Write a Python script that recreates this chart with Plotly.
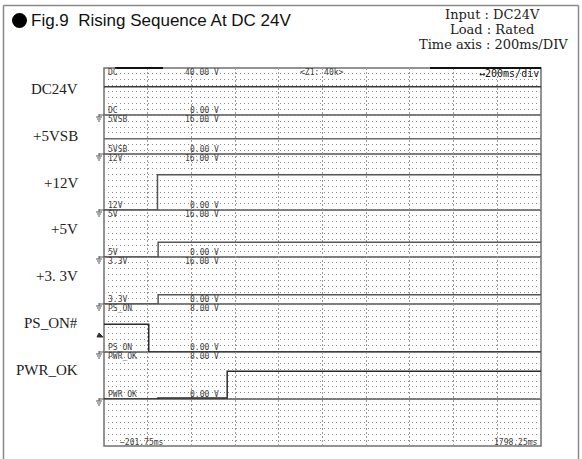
import plotly.graph_objects as go

W, H = 582, 459
T0, T1 = -201.75, 1798.25

# ---------------- data ----------------
channel_names = ["DC24V", "+5VSB", "+12V", "+5V", "+3. 3V", "PS_ON#", "PWR_OK"]
screen_tags = ["DC", "5VSB", "12V", "5V", "3.3V", "PS_ON", "PWR_OK"]
full_scale = [40, 16, 16, 16, 16, 8, 8]
full_scale_labels = ["40.00 V", "16.00 V", "16.00 V", "16.00 V", "16.00 V", "8.00 V", "8.00 V"]
zero_labels = ["0.00 V"] * 7

dc_t = [T0, T1]
dc_v = [24.0, 24.0]
vsb_t = [T0, T1]
vsb_v = [5.2, 5.2]
v12_t = [T0, 43, T1]
v12_v = [0.0, 11.9, 11.9]
v5_t = [T0, 46, T1]
v5_v = [0.0, 5.0, 5.0]
v33_t = [T0, 46, T1]
v33_v = [0.0, 3.1, 3.1]
pson_t = [T0, 3, T1]
pson_v = [4.7, 0.0, 0.0]
pwrok_t = [T0, 45, 362, T1]
pwrok_v = [0.0, 0.15, 4.7, 4.7]

series = [(dc_t, dc_v), (vsb_t, vsb_v), (v12_t, v12_v), (v5_t, v5_v),
          (v33_t, v33_v), (pson_t, pson_v), (pwrok_t, pwrok_v)]

# ---------------- layout geometry (pixels) ----------------
SX0, SX1 = 104, 541
SY0, SY1 = 68, 446
SEPS = [68, 115, 154, 210, 257, 304, 352, 399, 446]   # channel zero lines / screen edges
DIV = (SY1 - SY0) / 8                                 # one channel full scale in px


def px(x):
    return x / W


def py(y):
    return 1 - y / H


fig = go.Figure()
trace_colors = ["#3a3a3a", "#6a6a6a", "#555555", "#555555", "#555555", "#2a2a2a", "#2a2a2a"]
for i, (t, v) in enumerate(series):
    fig.add_trace(go.Scatter(x=t, y=v, mode="lines", line_shape="hv",
                             line=dict(color=trace_colors[i], width=1.5),
                             xaxis="x2", yaxis="y" if i == 0 else f"y{i+1}",
                             showlegend=False, hoverinfo="skip"))
# grid carrier (whole screen)
fig.add_trace(go.Scatter(x=[None], y=[None], xaxis="x", yaxis="y8",
                         showlegend=False, hoverinfo="skip"))

layout = dict(
    width=W, height=H, margin=dict(l=0, r=0, t=0, b=0),
    paper_bgcolor="white", plot_bgcolor="rgba(0,0,0,0)", showlegend=False,
    xaxis=dict(domain=[px(SX0), px(SX1)], range=[T0, T1], tick0=T0, dtick=200,
               showgrid=True, gridcolor="#9a9a9a", griddash="2px,2px", gridwidth=1,
               showticklabels=False, ticks="", zeroline=False, showline=False,
               anchor="y8"),
    xaxis2=dict(domain=[px(SX0), px(SX1)], range=[T0, T1], showgrid=False,
                showticklabels=False, ticks="", zeroline=False, showline=False,
                anchor="y", matches="x"),
    yaxis8=dict(domain=[py(SY1), py(SY0)], range=[0, 64], dtick=1, showgrid=True,
                gridcolor="#8c8c8c", griddash="1px,3px", gridwidth=1,
                showticklabels=False, ticks="", zeroline=False, showline=False,
                anchor="x"),
)
for i in range(7):
    zero = SEPS[i + 1]
    key = "yaxis" if i == 0 else f"yaxis{i+1}"
    layout[key] = dict(domain=[py(zero), py(zero - DIV)], range=[0, full_scale[i]],
                       showgrid=False, showticklabels=False, ticks="",
                       zeroline=False, showline=False, anchor="x2")
fig.update_layout(**layout)

shapes = []
# screen border
shapes.append(dict(type="rect", xref="paper", yref="paper", x0=px(SX0), x1=px(SX1),
                   y0=py(SY1), y1=py(SY0), line=dict(color="#707070", width=1.5),
                   layer="below"))
# zone separators (channel ground lines)
for y in SEPS[1:-1]:
    shapes.append(dict(type="line", xref="paper", yref="paper", x0=px(SX0), x1=px(SX1),
                       y0=py(y), y1=py(y), line=dict(color="#505050", width=1.5),
                       layer="below"))
# dark top segments
for a, b in [(115, 163), (430, 541)]:
    shapes.append(dict(type="line", xref="paper", yref="paper", x0=px(a), x1=px(b),
                       y0=py(SY0), y1=py(SY0), line=dict(color="#111111", width=2)))
# ground symbols
for y in SEPS[1:-1]:
    shapes.append(dict(type="line", xref="paper", yref="paper", x0=px(99), x1=px(SX0),
                       y0=py(y), y1=py(y), line=dict(color="#555555", width=1)))
    shapes.append(dict(type="line", xref="paper", yref="paper", x0=px(99), x1=px(99),
                       y0=py(y - 1), y1=py(y + 2), line=dict(color="#555555", width=1)))
    for k, hw in enumerate([3, 2, 1]):
        yy = y + 2 + k * 2
        shapes.append(dict(type="line", xref="paper", yref="paper", x0=px(99 - hw),
                           x1=px(99 + hw), y0=py(yy), y1=py(yy),
                           line=dict(color="#555555", width=1)))
# trigger marker
shapes.append(dict(type="path", xref="paper", yref="paper",
                   path=f"M {px(97)} {py(337)} L {px(103)} {py(337)} L {px(99)} {py(333)} Z",
                   fillcolor="#333333", line=dict(color="#333333", width=1)))
# outer frame
for (x0, y0, x1, y1) in [(3.5, 5.5, 3.5, 459), (3.5, 5.5, 578.5, 5.5), (578.5, 5.5, 578.5, 459)]:
    shapes.append(dict(type="line", xref="paper", yref="paper", x0=px(x0), x1=px(x1),
                       y0=py(y0), y1=py(y1), line=dict(color="#8a8a8a", width=1.5)))
# title bullet
shapes.append(dict(type="circle", xref="paper", yref="paper", x0=px(12), x1=px(27),
                   y0=py(28), y1=py(13), fillcolor="black", line=dict(color="black", width=0)))
fig.update_layout(shapes=shapes)

ann = []
mono = dict(family="DejaVu Sans Mono", size=8, color="#404040")


def txt(x, y, s, xanchor="left", font=None, yanchor="middle"):
    ann.append(dict(x=px(x), y=py(y), xref="paper", yref="paper", text=s,
                    showarrow=False, xanchor=xanchor, yanchor=yanchor,
                    font=font or mono))


for i in range(7):
    top = SEPS[i]
    bot = SEPS[i + 1]
    txt(106, top + 4.5, screen_tags[i])
    txt(106, bot - 5, screen_tags[i])
    txt(221, top + 4.5, full_scale_labels[i], xanchor="right")
    txt(221, bot - 5, zero_labels[i], xanchor="right")
    txt(80, 89 + 46.8 * i, channel_names[i], xanchor="right",
        font=dict(family="Liberation Serif", size=15, color="#222222"))

txt(298, 72.5, "<Z1: 40k>")
txt(541, 73, "↔200ms/div", xanchor="right",
    font=dict(family="DejaVu Sans Mono", size=10, color="#111111"))
txt(118, 442, "−201.75ms")
txt(540, 442, "1798.25ms", xanchor="right")

txt(29, 21, "Fig.9\u00a0 Rising Sequence At DC 24V",
    font=dict(family="Liberation Sans", size=17, color="#111111"))
hdr = dict(family="DejaVu Serif", size=13, color="#222222")
txt(492, 15, "Input : DC24V", xanchor="center", font=hdr)
txt(492, 30, "Load : Rated", xanchor="center", font=hdr)
txt(493, 45, "Time axis : 200ms/DIV", xanchor="center", font=hdr)

fig.update_layout(annotations=ann)
fig.write_html("out.html", config={"displayModeBar": False},
               post_script="document.body.style.margin='0';document.body.style.overflow='hidden';")
